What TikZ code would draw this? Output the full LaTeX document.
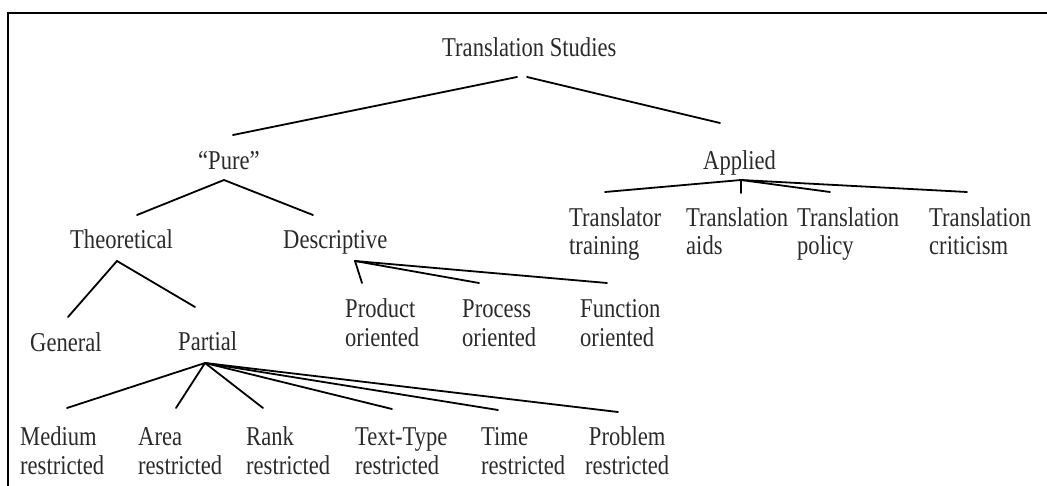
\documentclass[tikz,border=0pt]{standalone}
\usepackage{fontspec}
\setmainfont{Liberation Serif}[FakeStretch=0.83]
\definecolor{txt}{HTML}{2A2A2A}
\begin{document}
\begin{tikzpicture}[x=1pt,y=-1pt,
  lbl/.style={inner sep=0pt, anchor=base west, font=\fontsize{27.2}{28.5}\selectfont, text=txt},
  two/.style={lbl, align=left},
  twoc/.style={lbl, align=center},
  br/.style={line width=1.8pt, draw=black, line cap=round}]
\useasboundingbox (0,0) rectangle (1047,486);
\draw[line width=2.5pt] (8,490) -- (8,13) -- (1050,13);
% nodes (two-line nodes are placed by the baseline of their last line)
\node[lbl] (ts) at (442,57) {Translation Studies};
\node[lbl] (pure) at (198,170) {“Pure”};
\node[lbl] (applied) at (703,170) {Applied};
\node[lbl] (theo) at (70,249) {Theoretical};
\node[lbl] (desc) at (283,249) {Descriptive};
\node[two] (trtr) at (569,255) {Translator\\training};
\node[two] (trai) at (686,255) {Translation\\aids};
\node[two] (trpo) at (797,255) {Translation\\policy};
\node[two] (trcr) at (929,255) {Translation\\criticism};
\node[lbl] (gen) at (30,352) {General};
\node[lbl] (part) at (178,350) {Partial};
\node[two] (prod) at (345,346) {Product\\oriented};
\node[two] (proc) at (462,346) {Process\\oriented};
\node[two] (func) at (580,346) {Function\\oriented};
\node[two] (med) at (20,474) {Medium\\restricted};
\node[two] (area) at (138,474) {Area\\restricted};
\node[two] (rank) at (246,474) {Rank\\restricted};
\node[two] (tt) at (355,474) {Text-Type\\restricted};
\node[two] (time) at (481,474) {Time\\restricted};
\node[twoc] (prob) at (585,474) {Problem\\restricted};
% connector points
\coordinate (tsL) at (517,77);
\coordinate (tsR) at (527,77);
\coordinate (pureIn) at (233,135);
\coordinate (applIn) at (720,123);
\coordinate (pureOut) at (224,180);
\coordinate (theoIn) at (137,215);
\coordinate (descIn) at (313,215);
\coordinate (theoOut) at (117,261);
\coordinate (genIn) at (68,317);
\coordinate (partIn) at (195,307);
\coordinate (descOut) at (355,261);
\coordinate (prodIn) at (362,283);
\coordinate (procIn) at (479,283);
\coordinate (funcIn) at (607,283);
\coordinate (applOut) at (741,180);
\coordinate (trtrIn) at (605,192);
\coordinate (traiIn) at (741,193);
\coordinate (trpoIn) at (830,192);
\coordinate (trcrIn) at (967,192);
\coordinate (partOut) at (205,363);
\coordinate (medIn) at (67,408);
\coordinate (areaIn) at (176,408);
\coordinate (rankIn) at (263,408);
\coordinate (ttIn) at (392,409);
\coordinate (timeIn) at (498,410);
\coordinate (probIn) at (618,412);
% connectors
\draw[br] (tsL) -- (pureIn);
\draw[br] (tsR) -- (applIn);
\draw[br] (theoIn) -- (pureOut) -- (descIn);
\draw[br] (genIn) -- (theoOut) -- (partIn);
\draw[br] (descOut) -- (prodIn);
\draw[br] (descOut) -- (procIn);
\draw[br] (descOut) -- (funcIn);
\draw[br] (applOut) -- (trtrIn);
\draw[br] (applOut) -- (traiIn);
\draw[br] (applOut) -- (trpoIn);
\draw[br] (applOut) -- (trcrIn);
\foreach \t in {medIn,areaIn,rankIn,ttIn,timeIn,probIn}
  \draw[br] (partOut) -- (\t);
\end{tikzpicture}
\end{document}
